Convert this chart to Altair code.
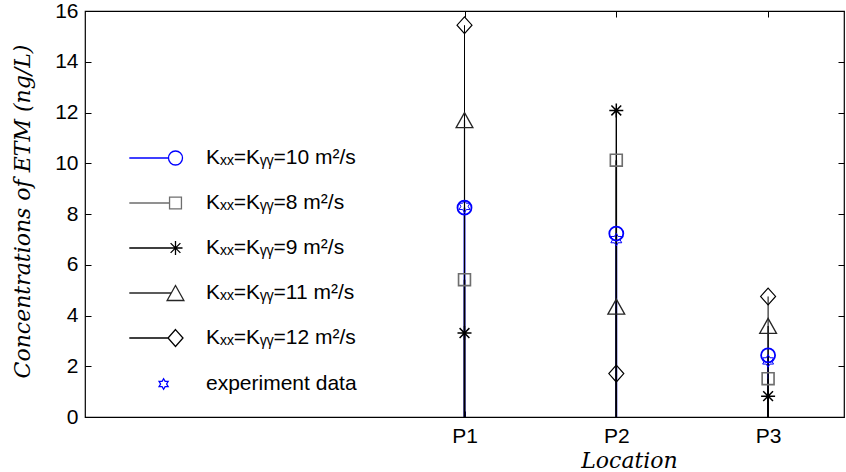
import json
import math
import altair as alt
import pandas as pd

# ---------------- data ----------------
locations = ["P1", "P2", "P3"]
positions = [1, 2, 3]

series_names = [
    "Kₓₓ=Kᵧᵧ=10 m²/s",
    "Kₓₓ=Kᵧᵧ=8 m²/s",
    "Kₓₓ=Kᵧᵧ=9 m²/s",
    "Kₓₓ=Kᵧᵧ=11 m²/s",
    "Kₓₓ=Kᵧᵧ=12 m²/s",
]
k10 = [8.25, 7.23, 2.43]
k8 = [5.41, 10.12, 1.51]
k9 = [3.31, 12.08, 0.82]
k11 = [11.70, 4.35, 3.59]
k12 = [15.44, 1.71, 4.75]

exp_name = "experiment data"
exp_values = [8.30, 6.99, 2.21]

y_ticks = [0, 2, 4, 6, 8, 10, 12, 14, 16]

# ---------------- tables ----------------
stem_rows = []
for name, vals in zip(series_names, [k10, k8, k9, k11, k12]):
    for p, loc, v in zip(positions, locations, vals):
        stem_rows.append({"series": name, "pos": p, "loc": loc, "value": v})
stems = pd.DataFrame(stem_rows)

exp_rows = [{"series": exp_name, "pos": p, "loc": loc, "value": v}
            for p, loc, v in zip(positions, locations, exp_values)]
points = pd.concat([stems, pd.DataFrame(exp_rows)], ignore_index=True)

all_names = series_names + [exp_name]

# ---------------- styles ----------------
colors = ["#0000ff", "#6e6e6e", "#000000", "#262626", "#000000", "#0000ff"]
marker_widths = [1.8, 1, 1, 1, 1, 1.2]
stem_colors = ["#0000ff", "#000000", "#000000", "#000000", "#000000"]
stem_widths = [1.8, 1, 1, 1, 1]


def hexagram(scale=1.0, dx=0.0):
    pts = []
    for k in range(12):
        ang = math.radians(90 - 30 * k)
        r = 1.0 if k % 2 == 0 else 1 / math.sqrt(3)
        pts.append((dx + scale * r * math.cos(ang), -scale * r * math.sin(ang)))
    return "M" + "L".join(f"{x:.3f},{y:.3f}" for x, y in pts) + "Z"


circle = "M1,0A1,1 0 1,1 -1,0A1,1 0 1,1 1,0Z"
square = "M-0.85,-0.85H0.85V0.85H-0.85Z"
aster = "M-1,0H1M0,-1V1M-0.7,-0.7L0.7,0.7M-0.7,0.7L0.7,-0.7"
triangle = "M0,-1.07L1.2,1.07H-1.2Z"
diamond = "M0,-1.2L1.07,0L0,1.2L-1.07,0Z"

marker_paths = [circle, square, aster, triangle, diamond, hexagram(0.9)]
legend_paths = [
    "M-6.6,0H-1" + circle,
    "M-6.6,0H-0.85" + square,
    "M-6.6,0H0" + aster,
    "M-6.6,0H-0.6" + triangle,
    "M-6.6,0H-1.07" + diamond,
    hexagram(0.75, -1.7),
]

label_font = "Liberation Sans"
title_font = "DejaVu Serif"

x_scale = alt.Scale(domain=[-1.5, 3.5], nice=False, zero=False)
y_scale = alt.Scale(domain=[0, 16], nice=False)

label_expr = json.dumps([""] + locations) + "[datum.value]"

bottom_axis = alt.Axis(
    orient="bottom", values=positions, labelExpr=label_expr, offset=-6,
    tickSize=6, tickColor="black", tickWidth=1, domain=False, grid=False,
    labelPadding=8, labelFont=label_font, labelFontSize=21, labelColor="black",
    title="Location", titleFont=title_font, titleFontStyle="italic",
    titleFontWeight="normal", titleFontSize=22, titleColor="black",
    titleX=544, titleY=56, titleAlign="center", titleBaseline="alphabetic",
)
left_axis = alt.Axis(
    orient="left", values=y_ticks, offset=-6, tickSize=6, tickColor="black",
    tickWidth=1, domain=False, grid=False, labelPadding=7, labelFont=label_font,
    labelFontSize=21, labelColor="black",
    title="Concentrations of ETM (ng/L)", titleFont=title_font,
    titleFontStyle="italic", titleFontWeight="normal", titleFontSize=22,
    titleColor="black", titleAngle=270, titleX=-69, titleY=200,
    titleAlign="center", titleBaseline="middle",
)
top_axis = alt.Axis(
    orient="top", values=positions, offset=-6, tickSize=6, tickColor="black",
    tickWidth=1, labels=False, domain=False, grid=False, title="",
)
right_axis = alt.Axis(
    orient="right", values=y_ticks, offset=-6, tickSize=6, tickColor="black",
    tickWidth=1, labels=False, domain=False, grid=False, title="",
)

legend_kwargs = dict(
    title=None, orient="none", legendX=80, legendY=136.5, padding=0,
    symbolSize=196, symbolStrokeWidth=1.3, symbolOpacity=1,
    symbolOffset=0, labelOffset=20, rowPadding=23,
    labelFont=label_font, labelFontSize=21, labelColor="black", labelLimit=400,
)

stem_layer = alt.Chart(stems).mark_rule().encode(
    x=alt.X("pos:Q", scale=x_scale, axis=bottom_axis),
    y=alt.Y("value:Q", scale=y_scale, axis=left_axis),
    y2=alt.datum(0),
    color=alt.Color("series:N", scale=alt.Scale(domain=series_names, range=stem_colors), legend=None),
    size=alt.Size("series:N", scale=alt.Scale(domain=series_names, range=stem_widths), legend=None),
)

point_layer = alt.Chart(points).mark_point(filled=False, size=196, opacity=1).encode(
    x=alt.X("pos:Q", scale=x_scale, axis=top_axis),
    y=alt.Y("value:Q", scale=y_scale, axis=right_axis),
    color=alt.Color("series:N", scale=alt.Scale(domain=all_names, range=colors), legend=None),
    shape=alt.Shape("series:N", scale=alt.Scale(domain=all_names, range=marker_paths), legend=None),
    strokeWidth=alt.StrokeWidth("series:N", scale=alt.Scale(domain=all_names, range=marker_widths), legend=None),
)

legend_layer = alt.Chart(points).mark_point(filled=False, size=196, strokeWidth=1.3, opacity=0).encode(
    x=alt.X("pos:Q", scale=x_scale, axis=None),
    y=alt.Y("value:Q", scale=y_scale, axis=None),
    color=alt.Color("series:N", scale=alt.Scale(domain=all_names, range=colors),
                    sort=all_names, legend=alt.Legend(**legend_kwargs)),
    shape=alt.Shape("series:N", scale=alt.Scale(domain=all_names, range=legend_paths),
                    sort=all_names, legend=alt.Legend(**legend_kwargs)),
)

chart = (
    alt.layer(stem_layer, point_layer, legend_layer)
    .resolve_scale(color="independent", shape="independent", size="independent",
                   strokeWidth="independent")
    .resolve_axis(x="independent", y="independent")
    .properties(
        width=759, height=406,
        autosize=alt.AutoSizeParams(type="none"),
        padding={"left": 85, "top": 11, "right": 2, "bottom": 55},
        background="white",
    )
    .configure_view(stroke="black", strokeWidth=1.2)
)

chart.save("out.html", embed_options={"renderer": "svg", "actions": False})
